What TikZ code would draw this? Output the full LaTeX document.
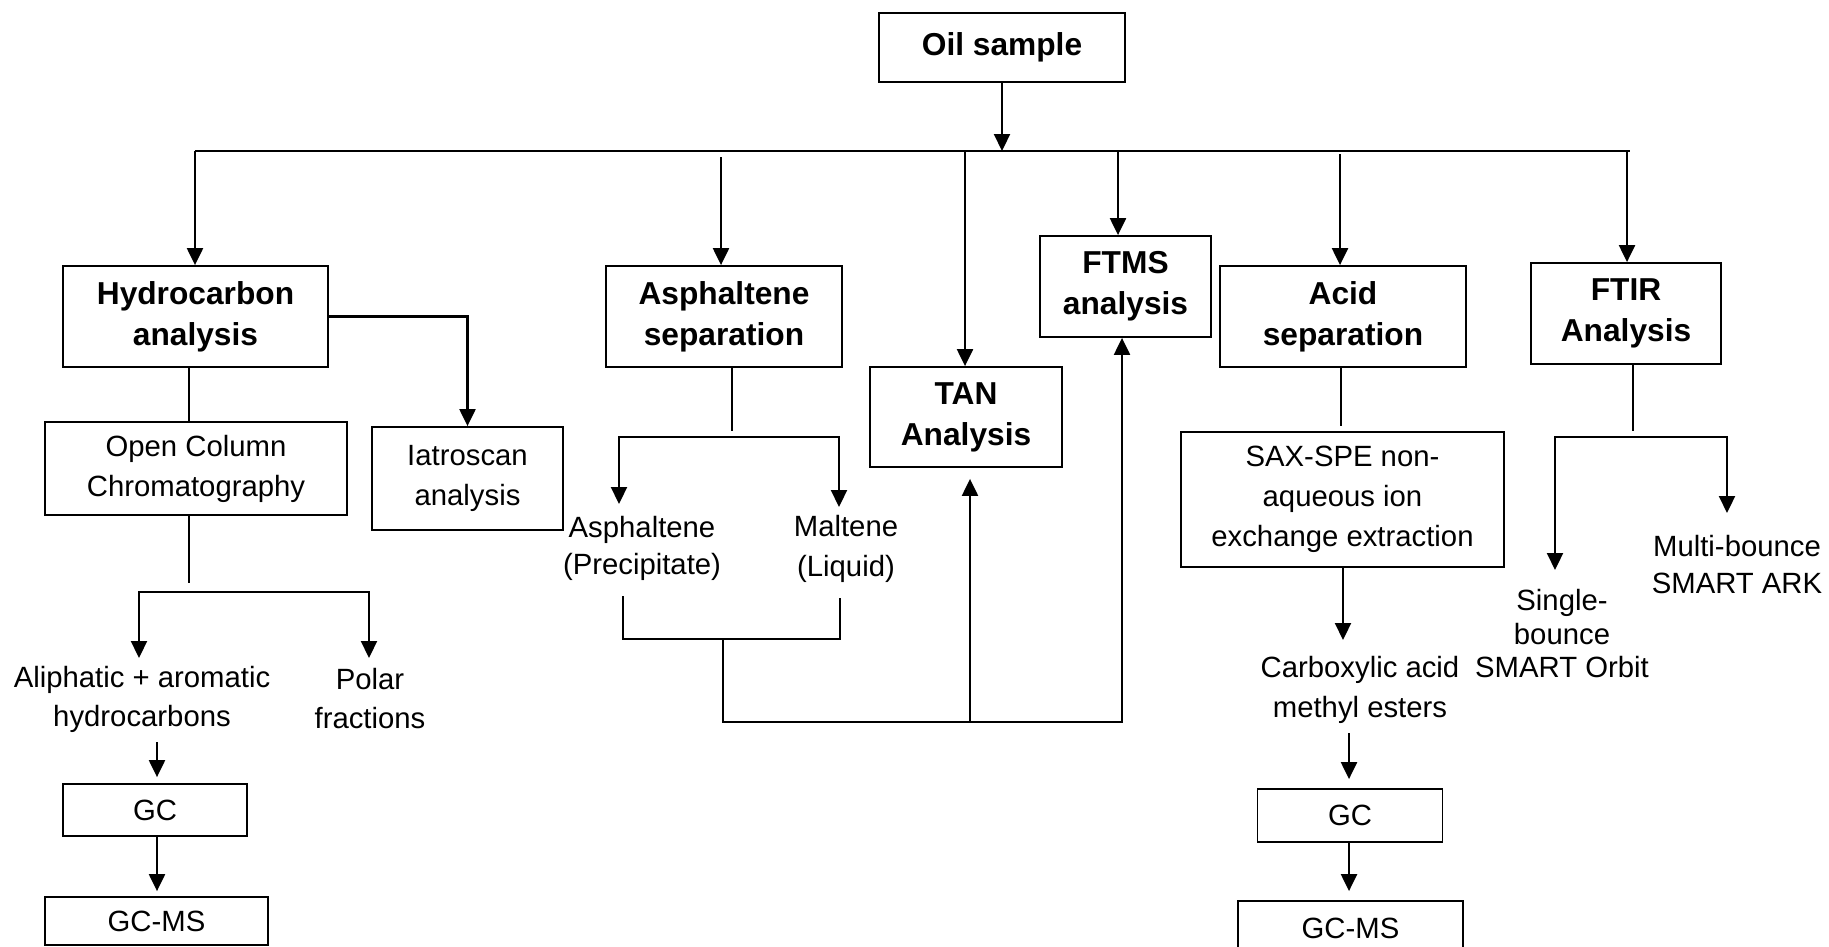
\documentclass[tikz,border=0pt]{standalone}
\usepackage{fontspec}
\setmainfont{Liberation Sans}
\usetikzlibrary{arrows.meta}
\begin{document}
\begin{tikzpicture}[x=1pt,y=-1pt,
  box/.style={draw, line width=1.8pt, align=center, inner sep=0pt},
  txt/.style={align=center, inner sep=0pt},
  bf/.style={font=\fontsize{31.7}{41}\selectfont\bfseries},
  rg/.style={font=\fontsize{29.3}{#1}\selectfont},
  rg/.default=40,
  ln/.style={line width=2.2pt},
  thinl/.style={line width=1.4pt},
  arr/.style={line width=2.2pt, -{Triangle[length=17pt,width=16pt]}},
  dbl/.style={line width=2.2pt, {Triangle[length=17pt,width=16pt]}-{Triangle[length=17pt,width=16pt]}}]
\useasboundingbox (0,0) rectangle (1829,946);
\clip (0,0) rectangle (1829,946);

% boxes
\node[box,bf,minimum width=246pt,minimum height=69pt] (oil) at (1002,47.5) {Oil sample};
\node[box,bf,minimum width=265pt,minimum height=101pt] (hydro) at (195.5,316.5) {Hydrocarbon\\analysis};
\node[box,bf,minimum width=236pt,minimum height=101pt] (asph) at (724,316.5) {Asphaltene\\separation};
\node[box,bf,minimum width=192pt,minimum height=100pt] (tan) at (966,417) {TAN\\Analysis};
\node[box,bf,minimum width=171pt,minimum height=101pt] (ftms) at (1125.5,286.5) {FTMS\\analysis};
\node[box,bf,minimum width=246pt,minimum height=101pt] (acid) at (1343,316.5) {Acid\\separation};
\node[box,bf,minimum width=190pt,minimum height=101pt] (ftir) at (1626,313.5) {FTIR\\Analysis};
\node[box,rg,minimum width=302pt,minimum height=93pt] (ocol) at (196,468.5) {Open Column\\Chromatography};
\node[box,rg,minimum width=191pt,minimum height=103pt] (iatro) at (467.5,478.5) {Iatroscan\\analysis};
\node[box,rg,minimum width=323pt,minimum height=135pt] (sax) at (1342.5,499.5) {SAX-SPE non-\\aqueous ion\\exchange extraction};
\node[box,rg,minimum width=184pt,minimum height=52pt] (gc1) at (155,810) {GC};
\node[box,rg,minimum width=223pt,minimum height=48pt] (gcms1) at (156.5,921) {GC-MS};
\node[box,rg,minimum width=185pt,minimum height=53pt] (gc2) at (1350,815.5) {GC};
\node[box,rg,minimum width=225pt,minimum height=54pt] (gcms2) at (1350.5,928) {GC-MS};

% free texts
\node[txt,rg=39] (aliph) at (142,699) {Aliphatic + aromatic\\hydrocarbons};
\node[txt,rg=39] (polar) at (370,699) {Polar\\fractions};
\node[txt,rg=37] (asphp) at (642,548) {Asphaltene\\(Precipitate)};
\node[txt,rg=40] (malt) at (846,549) {Maltene\\(Liquid)};
\node[txt,rg=40] (carb) at (1360,690) {Carboxylic acid\\methyl esters};
\node[txt,rg=33.5] (single) at (1562,634) {Single-\\bounce\\SMART Orbit};
\node[txt,rg=37] (multi) at (1737,565) {Multi-bounce\\SMART ARK};

% main bus
\coordinate (busL) at (195,151);
\coordinate (busR) at (1630,151);
\draw[ln] (busL) -- (busR);
\draw[arr] (oil.south) -- (oil.south |- busL);
\draw[arr] (busL) -- (busL |- hydro.north);
\coordinate (aTop) at (721,157);
\draw[arr] (aTop) -- (aTop |- asph.north);
\coordinate (tTop) at (965,151);
\draw[arr] (tTop) -- (tTop |- tan.north);
\coordinate (fTop) at (1118,151);
\draw[arr] (fTop) -- (fTop |- ftms.north);
\coordinate (cTop) at (1340,154);
\draw[arr] (cTop) -- (cTop |- acid.north);
\coordinate (rTop) at (1627,151);
\draw[arr] (rTop) -- (rTop |- ftir.north);

% hydrocarbon branch
\draw[arr] (hydro.east) -| (iatro.north);
\coordinate (h1) at (189,422);
\draw[thinl] (hydro.south -| h1) -- (h1 |- ocol.north);
\coordinate (oc1) at (189,583);
\draw[thinl] (ocol.south -| oc1) -- (oc1);
\coordinate (hbL) at (139,658);
\coordinate (hbT) at (369,592);
\coordinate (hbR) at (369,658);
\draw[dbl] (hbL) |- (hbT) -- (hbR);
\coordinate (g1) at (157,742);
\draw[arr] (g1) -- ([yshift=6pt]g1 |- gc1.north);
\draw[arr] (gc1.south -| g1) -- ([yshift=5pt]g1 |- gcms1.north);

% asphaltene branch
\coordinate (as1) at (732,431);
\draw[thinl] (asph.south -| as1) -- (as1);
\coordinate (abL) at (619,504);
\coordinate (abT) at (839,437);
\coordinate (abR) at (839,507);
\draw[dbl] (abL) |- (abT) -- (abR);
\coordinate (mL) at (623,596);
\coordinate (mB) at (840,639);
\coordinate (mR) at (840,598);
\draw[thinl] (mL) |- (mB) -- (mR);
\coordinate (m1) at (723,639);
\coordinate (m2) at (1122,722);
\draw[arr] (m1) |- (m2) -- (m2 |- ftms.south);
\coordinate (t2) at (970,722);
\draw[arr] (t2) -- ([yshift=-11pt]t2 |- tan.south);

% acid branch
\coordinate (ac1) at (1341,426);
\draw[thinl] (acid.south -| ac1) -- (ac1);
\coordinate (sx) at (1343,640);
\draw[arr] (sax.south -| sx) -- (sx);
\coordinate (c1) at (1349,733);
\draw[arr] (c1) -- ([yshift=9pt]c1 |- gc2.north);
\draw[arr] (gc2.south -| c1) -- ([yshift=9pt]c1 |- gcms2.north);

% FTIR branch
\coordinate (fr1) at (1633,431);
\draw[thinl] (ftir.south -| fr1) -- (fr1);
\coordinate (fbL) at (1555,570);
\coordinate (fbT) at (1727,437);
\coordinate (fbR) at (1727,513);
\draw[dbl] (fbL) |- (fbT) -- (fbR);
\end{tikzpicture}
\end{document}
